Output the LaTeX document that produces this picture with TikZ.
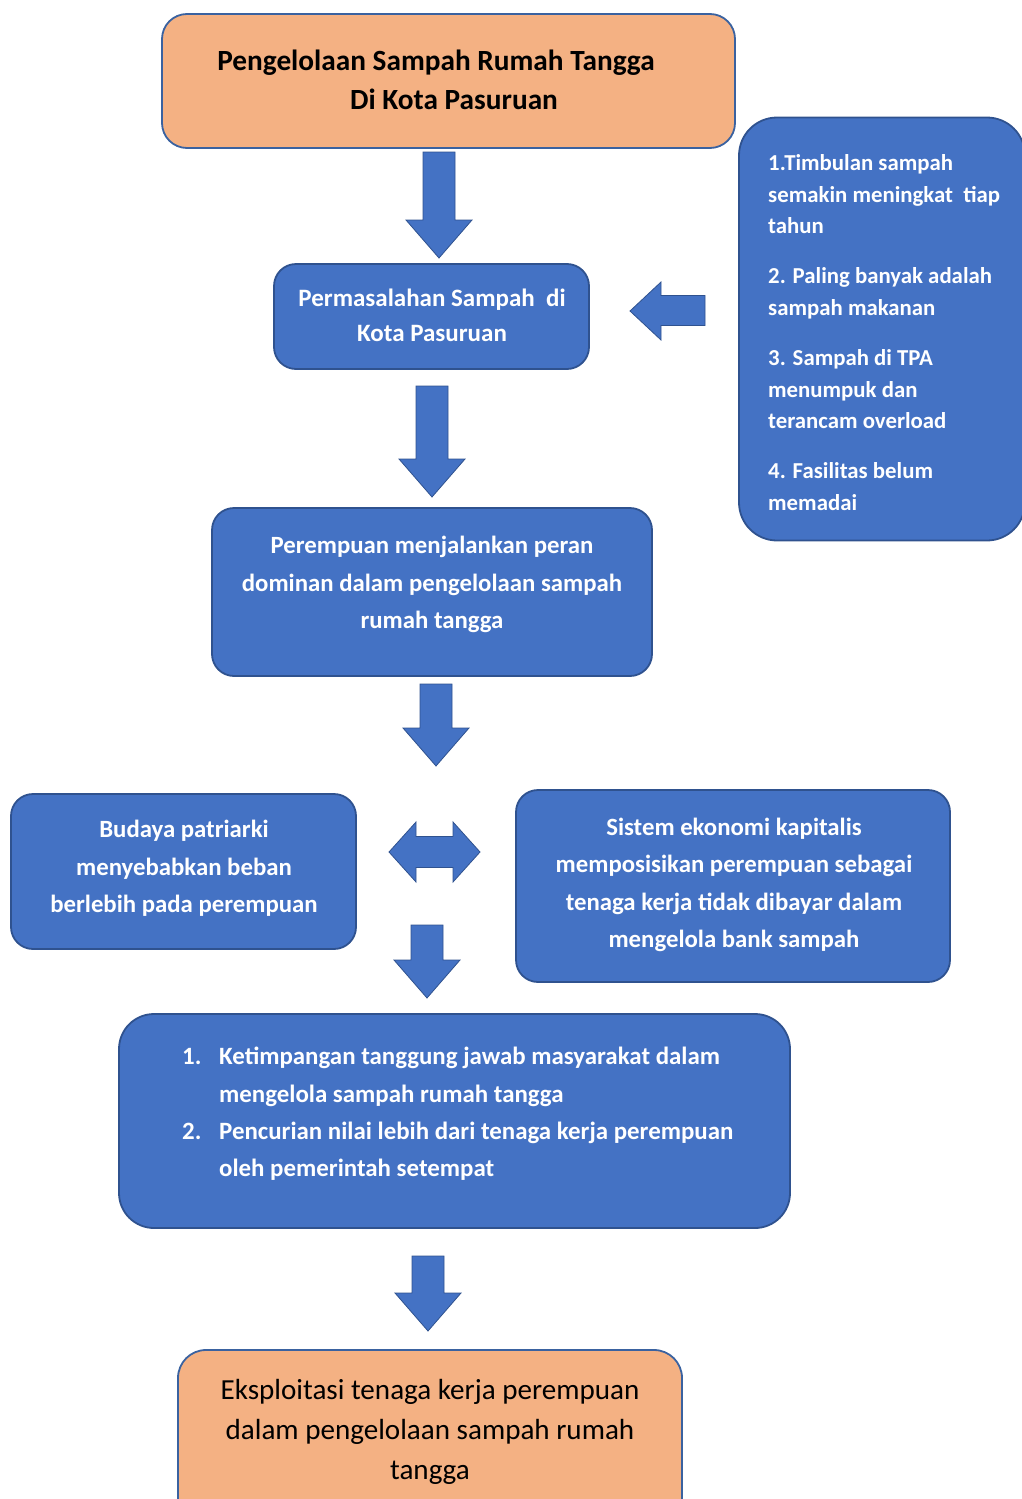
\documentclass[tikz,border=0pt]{standalone}
\usepackage{fontspec}
\setmainfont{Carlito}
\definecolor{bfill}{HTML}{4472C4}
\definecolor{bdraw}{HTML}{2F528F}
\definecolor{ofill}{HTML}{F4B183}
\definecolor{odraw}{HTML}{3A62A0}
\begin{document}
\begin{tikzpicture}[x=1pt,y=-1pt,
  bluebox/.style={draw=bdraw, line width=1.8pt, fill=bfill, rounded corners=22pt, inner sep=0pt},
  orangebox/.style={draw=odraw, line width=1.8pt, fill=ofill, rounded corners=25pt, inner sep=0pt},
  wtxt/.style={inner sep=0pt, text=white, align=center},
  btxt/.style={inner sep=0pt, text=black, align=center},
  blockarrow/.style={fill=bfill, draw=bdraw, line width=0.8pt, line join=miter},
  pics/darrow/.style={code={
    \path[blockarrow] (-16,0) -- (16,0) -- (16,#1-38) -- (33,#1-38) -- (0,#1) -- (-33,#1-38) -- (-16,#1-38) -- cycle;}}
]
\useasboundingbox (0,0) rectangle (1022,1499);
\clip (0,0) rectangle (1022,1499);

% top box
\node[orangebox, minimum width=573pt, minimum height=134pt] (top) at (448.5,81) {};
\node[btxt, font=\bfseries\fontsize{29.3}{39}\selectfont] (toptext) at (448,79.5)
  {Pengelolaan Sampah Rumah Tangga\hspace*{24pt}\\ \hspace*{12pt}Di Kota Pasuruan};

% problems box
\node[bluebox, minimum width=315pt, minimum height=105pt] (prob) at (431.5,316.5) {};
\node[wtxt, font=\bfseries\fontsize{25}{35}\selectfont] (probtext) at (432,315.5)
  {Permasalahan Sampah\ \ di\\Kota Pasuruan};

% right list box
\node[bluebox, rounded corners=38pt, minimum width=286pt, minimum height=423pt] (rbox) at (882,329) {};
\node[wtxt, anchor=north west, align=left, font=\bfseries\fontsize{22.8}{31.8}\selectfont] (rtext) at (768,154)
  {1.Timbulan sampah\\ semakin meningkat\ \ tiap\\ tahun\\[18pt]
   2. Paling banyak adalah\\ sampah makanan\\[18pt]
   3. Sampah di TPA\\ menumpuk dan\\ terancam overload\\[18pt]
   4. Fasilitas belum\\ memadai};

% women box
\node[bluebox, minimum width=440pt, minimum height=168pt] (women) at (432,592) {};
\node[wtxt, font=\bfseries\fontsize{24.8}{37.5}\selectfont] (womentext) at (432,584.5)
  {Perempuan menjalankan peran\\ dominan dalam pengelolaan sampah\\ rumah tangga};

% patriarchy box
\node[bluebox, minimum width=345pt, minimum height=155pt] (patri) at (183.5,871.5) {};
\node[wtxt, font=\bfseries\fontsize{24.8}{37.5}\selectfont] (patritext) at (184,868.5)
  {Budaya patriarki\\ menyebabkan beban\\ berlebih pada perempuan};

% capitalism box
\node[bluebox, minimum width=434pt, minimum height=192pt] (capit) at (733,886) {};
\node[wtxt, font=\bfseries\fontsize{24.8}{37.3}\selectfont] (capittext) at (734,885)
  {Sistem ekonomi kapitalis\\ memposisikan perempuan sebagai\\ tenaga kerja tidak dibayar dalam\\ mengelola bank sampah};

% consequences box
\node[bluebox, rounded corners=35pt, minimum width=671pt, minimum height=214pt] (cons) at (454.5,1121) {};
\node[wtxt, anchor=west, align=left, font=\bfseries\fontsize{24.9}{37.3}\selectfont] (constext) at (182,1114)
  {\makebox[37pt][l]{1.}Ketimpangan tanggung jawab masyarakat dalam\\
   \hspace*{37pt}mengelola sampah rumah tangga\\
   \makebox[37pt][l]{2.}Pencurian nilai lebih dari tenaga kerja perempuan\\
   \hspace*{37pt}oleh pemerintah setempat};

% bottom box
\node[orangebox, rounded corners=28pt, minimum width=504pt, minimum height=180pt] (expl) at (430,1440) {};
\node[btxt, font=\fontsize{29.1}{40}\selectfont] (expltext) at (430,1432)
  {Eksploitasi tenaga kerja perempuan\\ dalam pengelolaan sampah rumah\\ tangga};

% down block arrows
\pic at (439,152) {darrow=106};
\pic at (432,386) {darrow=111};
\pic at (436,684) {darrow=82};
\pic at (427,925) {darrow=73};
\pic at (428,1256) {darrow=75};

% left block arrow (from list box to problems box)
\path[blockarrow] (705,295.5) -- (661,295.5) -- (661,282) -- (630,311) -- (661,340) -- (661,325.5) -- (705,325.5) -- cycle;

% double block arrow between patriarchy and capitalism
\path[blockarrow] (389,852) -- (416,822) -- (416,836.5) -- (453,836.5) -- (453,822) -- (480,852)
  -- (453,882) -- (453,867.5) -- (416,867.5) -- (416,882) -- cycle;
\end{tikzpicture}
\end{document}
